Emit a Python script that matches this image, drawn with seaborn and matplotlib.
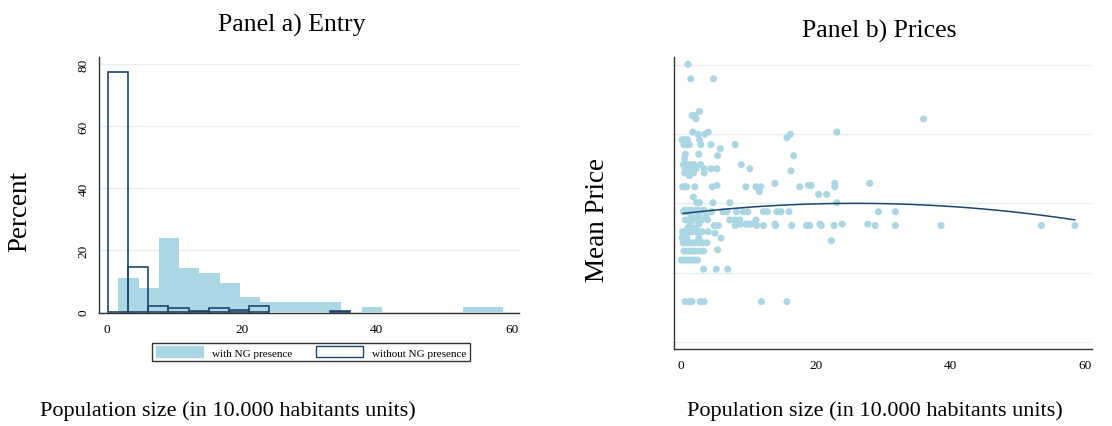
import matplotlib
matplotlib.use("Agg")
import matplotlib.pyplot as plt
from matplotlib.patches import Patch
import numpy as np
import pandas as pd
import seaborn as sns

# Panel a) histogram, percent per bin
with_ng_pct = [11.1, 7.9, 23.8, 14.3, 12.7, 9.5, 4.8, 3.2, 3.2, 3.2, 3.2,
               0.0, 1.6, 0.0, 0.0, 0.0, 0.0, 1.6, 1.6]
with_ng_range = (1.73, 58.8)
without_ng_pct = [77.3, 14.7, 2.0, 1.2, 0.4, 1.2, 0.8, 2.0, 0.0, 0.0, 0.0, 0.4]
without_ng_range = (0.15, 36.1)

# Panel b) scatter: mean price level -> population values at that level
price_rows = {
    4.01: [1.0],
    3.80: [1.4, 4.8],
    3.33: [2.7],
    3.27: [1.6, 2.0],
    3.22: [2.2, 36.0],
    3.03: [1.7, 4.0, 23.1],
    3.00: [2.5, 3.5, 16.2],
    2.95: [15.7],
    2.92: [0.1, 0.5, 0.9, 2.7],
    2.85: [0.4, 0.8, 1.2, 2.9, 4.4, 8.0],
    2.79: [5.8],
    2.71: [0.6, 2.6],
    2.69: [5.4, 16.7],
    2.65: [0.5],
    2.56: [0.3, 1.0, 1.5, 1.9, 2.9, 8.9],
    2.50: [0.6, 1.2, 1.7, 2.2, 3.4, 4.4, 5.3, 10.2],
    2.47: [0.8, 1.4, 16.3],
    2.44: [0.5, 1.0, 1.8, 3.4],
    2.40: [1.2],
    2.29: [13.9, 22.8, 28.0],
    2.26: [5.3, 18.9, 19.3],
    2.24: [0.2, 0.6, 0.8, 2.0, 4.6, 9.6, 11.1, 11.8, 17.6, 22.8],
    2.17: [11.6],
    2.13: [20.4, 21.6],
    2.09: [1.8],
    2.01: [2.3, 2.7, 4.7, 7.2, 23.1],
    1.90: [0.5, 1.0, 1.5, 2.0, 2.5, 3.2, 3.4],
    1.88: [0.3, 0.8, 1.3, 1.8, 2.8, 4.5, 6.2, 6.8, 8.2, 9.2, 9.9, 12.2,
           12.8, 14.2, 14.8, 16.0, 29.3, 31.8],
    1.82: [1.5, 2.6, 3.7],
    1.76: [0.6, 1.0, 1.4, 1.9, 2.4, 3.0, 3.9, 7.2, 8.0, 8.7, 11.1],
    1.70: [1.3, 2.6, 8.7, 9.6, 10.0, 10.4, 13.9, 20.6, 23.9, 27.7],
    1.68: [4.9, 5.5, 8.0, 11.2, 12.2, 14.0, 16.4, 18.6, 19.1, 20.8, 22.7,
           28.8, 31.8, 38.6, 53.5, 58.5],
    1.64: [1.0, 2.0],
    1.59: [0.2, 0.5, 0.9, 1.3, 1.6, 2.2, 2.6, 3.1, 4.0],
    1.57: [0.7, 5.0],
    1.50: [0.1, 0.8, 2.6, 5.9],
    1.46: [22.3],
    1.43: [0.3, 0.7, 1.1, 1.6, 2.1, 2.7, 3.2, 3.8],
    1.33: [5.4],
    1.31: [0.4, 1.0, 1.5, 2.0, 2.7, 3.3],
    1.18: [0.0, 0.4, 0.8, 1.2, 1.6, 2.0, 2.4],
    1.05: [3.3, 5.2, 6.9],
    0.58: [0.55, 1.2, 1.6, 2.8, 3.4, 11.9, 15.7],
}

# quadratic fit line
fit_x = [0.2, 10.2, 20.1, 28.5, 36.0, 43.4, 50.8, 58.5]
fit_y = [1.86, 1.94, 1.985, 1.995, 1.98, 1.94, 1.87, 1.75]

LIGHT = "#abd7e4"
NAVY = "#1a476f"
GRID = "#e6eff1"

sns.set_style("white")
plt.rcParams["font.family"] = ["Liberation Serif", "DejaVu Serif"]
plt.rcParams["text.color"] = "black"
plt.rcParams["axes.labelcolor"] = "black"
plt.rcParams["xtick.color"] = "black"
plt.rcParams["ytick.color"] = "black"

fig = plt.figure(figsize=(11.12, 4.27), dpi=100)
W, H = 1112, 427


def px_axes(x0, y0, x1, y1):
    return fig.add_axes([x0 / W, 1 - y1 / H, (x1 - x0) / W, (y1 - y0) / H])


def style(ax):
    sns.despine(ax=ax)
    for s in ("left", "bottom"):
        ax.spines[s].set_color("#333333")
        ax.spines[s].set_linewidth(1.0)
    ax.tick_params(axis="both", direction="out", length=4, width=0.9,
                   color="#333333", labelcolor="black", labelsize=9.5, pad=3)
    ax.yaxis.grid(True, color=GRID, linewidth=1.0)
    ax.set_axisbelow(True)


def hist_frame(pct, rng):
    edges = np.linspace(rng[0], rng[1], len(pct) + 1)
    mids = (edges[:-1] + edges[1:]) / 2
    return pd.DataFrame({"pop": mids, "pct": pct}), edges.tolist()


# ---- Panel a
ax1 = px_axes(99.3, 58, 519, 314)
dw, edges_w = hist_frame(with_ng_pct, with_ng_range)
dwo, edges_wo = hist_frame(without_ng_pct, without_ng_range)
sns.histplot(data=dw, x="pop", weights="pct", bins=edges_w, color=LIGHT,
             alpha=1, linewidth=0, ax=ax1)
sns.histplot(data=dwo, x="pop", weights="pct", bins=edges_wo, fill=False,
             color=NAVY, linewidth=1.2, ax=ax1)
for p in ax1.patches:
    if p.get_height() == 0:
        p.set_visible(False)
ax1.set_xlim(-1.1, 61.1)
ax1.set_ylim(-0.3, 82.3)
ax1.set_xticks([0, 20, 40, 60])
ax1.set_yticks([0, 20, 40, 60, 80])
style(ax1)
for lab in ax1.get_yticklabels():
    lab.set_rotation(90)
    lab.set_va("center")
ax1.set_title("Panel a) Entry", fontsize=18.5, x=0.459, y=1.07)
ax1.set_ylabel("Percent", fontsize=19.5, va="center")
ax1.yaxis.set_label_coords(-0.189, 0.4)
ax1.set_xlabel("Population size (in 10.000 habitants units)", fontsize=16)
ax1.xaxis.set_label_coords(0.307, -0.379)
ax1.xaxis.label.set_va("center")

fig.legend(handles=[Patch(facecolor=LIGHT, edgecolor=LIGHT),
                    Patch(facecolor="white", edgecolor=NAVY, linewidth=1.0)],
           labels=["with NG presence", "without NG presence"],
           loc="center", bbox_to_anchor=(311 / W, 1 - 353 / H), ncol=2,
           fontsize=8, frameon=True, fancybox=False, edgecolor="black",
           handlelength=4.2, handleheight=1.1, columnspacing=2.2,
           borderpad=0.35, handletextpad=0.8)

# ---- Panel b
rows = [(x, y) for y, xs in price_rows.items() for x in xs]
df = pd.DataFrame(rows, columns=["pop", "price"])
ax2 = px_axes(674.3, 58, 1091.7, 350)
sns.scatterplot(data=df, x="pop", y="price", color=LIGHT, s=26,
                edgecolor="none", ax=ax2)
sns.regplot(x=fit_x, y=fit_y, order=2, ci=None, scatter=False,
            line_kws={"color": NAVY, "linewidth": 1.1}, ax=ax2,
            truncate=True)
ax2.set_xlim(-1.04, 60.98)
ax2.set_ylim(-0.105, 4.116)
ax2.set_xticks([0, 20, 40, 60])
ax2.set_yticks([0, 1, 2, 3, 4])
ax2.set_yticklabels([])
style(ax2)
ax2.set_title("Panel b) Prices", fontsize=18.5, x=0.49, y=1.04)
ax2.set_ylabel("Mean Price", fontsize=19.5, va="center")
ax2.yaxis.set_label_coords(-0.185, 0.445)
ax2.set_xlabel("Population size (in 10.000 habitants units)", fontsize=16)
ax2.xaxis.set_label_coords(0.481, -0.209)
ax2.xaxis.label.set_va("center")

fig.savefig("out.png", dpi=100)
